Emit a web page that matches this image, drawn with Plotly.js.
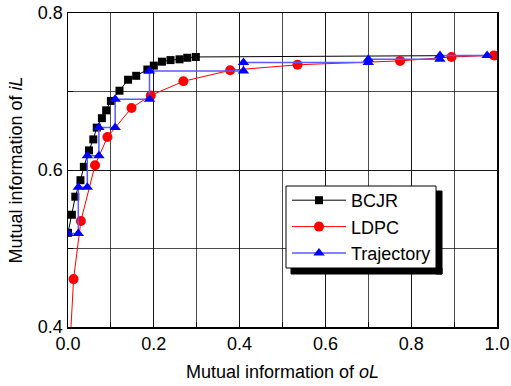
<!DOCTYPE html>
<html><head><meta charset="utf-8">
<script src="https://cdn.plot.ly/plotly-3.0.1.min.js"></script>
<style>html,body{margin:0;padding:0;background:#fff}#chart{width:511px;height:386px}</style>
</head><body><div id="chart"></div>
<script>
const bcjrX = [0.0, 0.009, 0.017, 0.029, 0.037, 0.049, 0.059, 0.067, 0.079, 0.089, 0.100, 0.120, 0.140, 0.159, 0.185, 0.200, 0.219, 0.239, 0.260, 0.278, 0.298, 1.0];
const bcjrY = [0.520, 0.543, 0.566, 0.587, 0.604, 0.625, 0.639, 0.654, 0.666, 0.676, 0.688, 0.701, 0.715, 0.720, 0.728, 0.733, 0.738, 0.740, 0.741, 0.743, 0.744, 0.746];
const ldpcX = [0.006, 0.013, 0.030, 0.063, 0.092, 0.148, 0.193, 0.269, 0.378, 0.535, 0.774, 0.894, 0.993];
const ldpcY = [0.390, 0.461, 0.535, 0.606, 0.642, 0.679, 0.695, 0.713, 0.727, 0.734, 0.739, 0.744, 0.746];
const trajX = [0.0, 0.024, 0.024, 0.045, 0.045, 0.072, 0.072, 0.110, 0.110, 0.190, 0.190, 0.409, 0.409, 0.700, 0.700, 0.867, 0.867, 0.977];
const trajY = [0.519, 0.519, 0.578, 0.578, 0.618, 0.618, 0.654, 0.654, 0.690, 0.690, 0.726, 0.726, 0.737, 0.737, 0.741, 0.741, 0.746, 0.746];
const xTickVals = [0, 0.2, 0.4, 0.6, 0.8, 1.0];
const xTickText = ['0.0', '0.2', '0.4', '0.6', '0.8', '1.0'];
const yTickVals = [0.4, 0.6, 0.8];
const yTickText = ['0.4', '0.6', '0.8'];

const FONT = 'Arial, "Liberation Sans", sans-serif';
const FS = 18;
const traces = [
  {x: bcjrX, y: bcjrY, name: 'BCJR', mode: 'lines+markers',
   line: {color: '#000', width: 1}, marker: {symbol: 'square', size: 8, color: '#000'}},
  {x: ldpcX, y: ldpcY, name: 'LDPC', mode: 'lines+markers',
   line: {color: '#ff0000', width: 1}, marker: {symbol: 'circle', size: 10, color: '#ff0000'}},
  {x: trajX, y: trajY, name: 'Trajectory', mode: 'lines+markers',
   line: {color: '#5a5aff', width: 1.5}, marker: {symbol: 'triangle-up', size: 10, color: '#0000ff'}}
];
const gridC = 'rgba(0,0,0,0.7)';
const L = 68, T = 13, W = 429, H = 314;
const px2x = p => (p - L) / W;
const px2y = p => 1 - (p - T) / H;
const layout = {
  width: 511, height: 386,
  margin: {l: L, r: 14, t: T, b: 59},
  paper_bgcolor: '#fff', plot_bgcolor: '#fff',
  font: {family: FONT, size: FS, color: '#000'},
  showlegend: true,
  legend: {x: px2x(287), y: px2y(227), xanchor: 'left', yanchor: 'middle', bgcolor: 'rgba(0,0,0,0)',
    borderwidth: 0, font: {family: FONT, size: FS, color: '#000'},
    tracegroupgap: 0, itemwidth: 54},
  xaxis: {range: [0, 1], tickvals: xTickVals, ticktext: xTickText,
    showline: true, linecolor: '#000', linewidth: 1.5, mirror: true,
    ticks: 'inside', ticklen: 5, tickcolor: '#000',
    showgrid: true, gridcolor: gridC, gridwidth: 1, zeroline: false,
    minor: {dtick: 0.1, showgrid: true, gridcolor: gridC, gridwidth: 1, ticks: 'inside', ticklen: 5, tickcolor: '#000'},
    tickfont: {family: FONT, size: FS},
    title: {text: 'Mutual information of <i>oL</i>', font: {family: FONT, size: FS}, standoff: 12}},
  yaxis: {range: [0.4, 0.8], tickvals: yTickVals, ticktext: yTickText,
    showline: true, linecolor: '#000', linewidth: 1.5, mirror: true,
    ticks: 'inside', ticklen: 5, tickcolor: '#000',
    showgrid: true, gridcolor: gridC, gridwidth: 1, zeroline: false,
    minor: {dtick: 0.1, showgrid: true, gridcolor: gridC, gridwidth: 1, ticks: 'inside', ticklen: 5, tickcolor: '#000'},
    tickfont: {family: FONT, size: FS},
    title: {text: 'Mutual information of <i>iL</i>', font: {family: FONT, size: FS}, standoff: 10}},
  shapes: [
    {type: 'rect', xref: 'paper', yref: 'paper', layer: 'above', opacity: 1,
     x0: px2x(436), x1: px2x(442), y0: px2y(274), y1: px2y(191),
     fillcolor: '#000000', line: {color: '#000000', width: 1}},
    {type: 'rect', xref: 'paper', yref: 'paper', layer: 'above', opacity: 1,
     x0: px2x(291), x1: px2x(442), y0: px2y(274), y1: px2y(268),
     fillcolor: '#000000', line: {color: '#000000', width: 1}},
    {type: 'rect', xref: 'paper', yref: 'paper', layer: 'above', opacity: 1,
     x0: px2x(286), x1: px2x(436), y0: px2y(268), y1: px2y(186),
     fillcolor: '#ffffff', line: {color: '#000000', width: 1}}
  ]
};
Plotly.newPlot('chart', traces, layout, {staticPlot: true, displayModeBar: false});
</script></body></html>
